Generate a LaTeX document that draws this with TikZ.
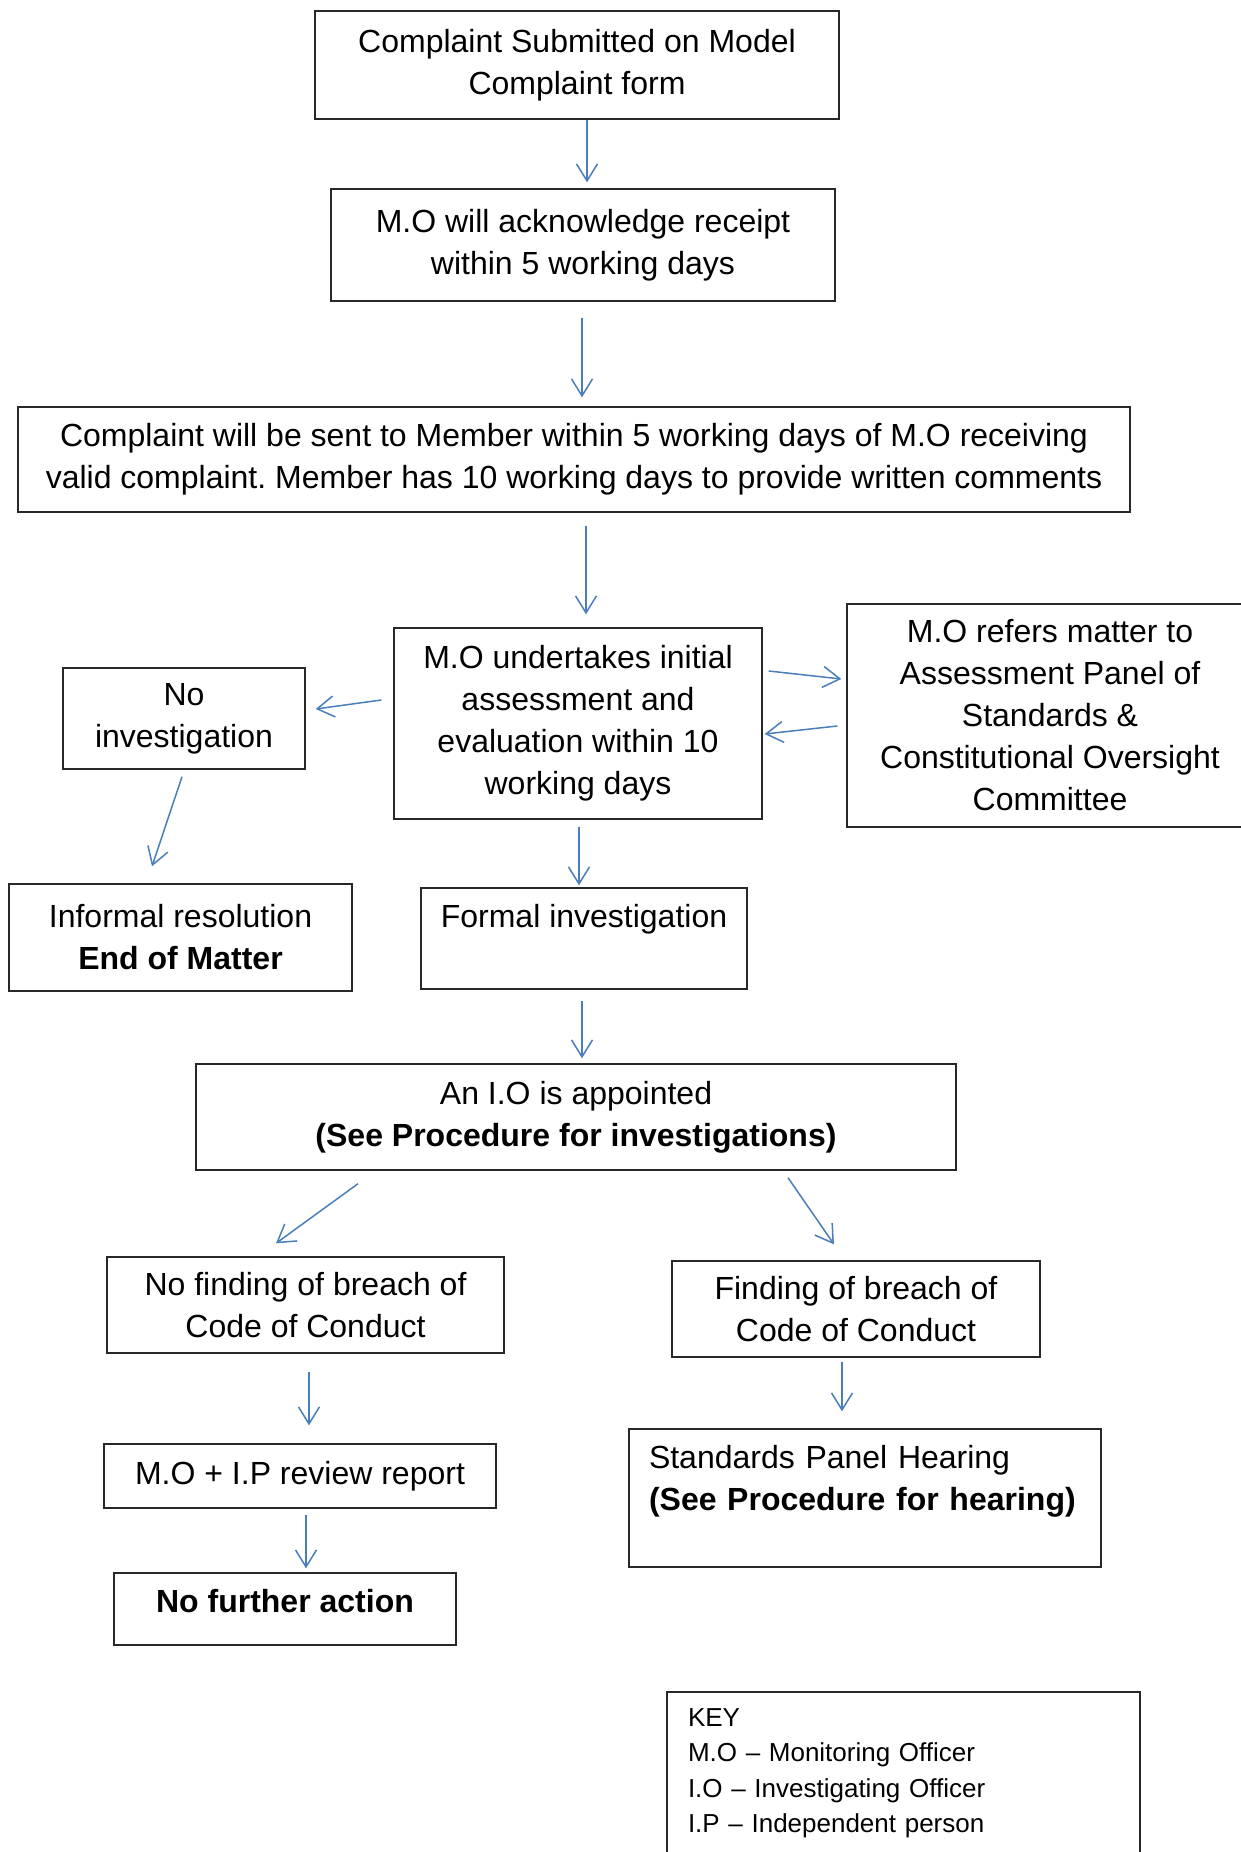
\documentclass[tikz,border=0pt]{standalone}
\usepackage{fontspec}
\setmainfont{Liberation Sans}
\usepackage{tikz}
\usetikzlibrary{arrows.meta, calc}
\frenchspacing

\definecolor{flowblue}{RGB}{74,126,187}
\definecolor{boxline}{RGB}{40,40,40}

\begin{document}
\begin{tikzpicture} [x=1pt, y=-1pt,
	font=\fontsize{32}{42}\selectfont,
	stage/.style={draw=boxline, line width=1.4pt, align=center, inner sep=0pt},
	flowarrow/.style={draw=flowblue, line width=1.5pt, -{Straight Barb[length=17pt, width=21pt]}}]
	%    keyfont/.style={font=\fontsize{26}{35.5}\selectfont}
	
	\useasboundingbox (0,0) rectangle (1241,1852);
	
	\node[stage, minimum width=524pt, minimum height=108pt] (complaint) at (577,65)
		{Complaint Submitted on Model\\Complaint form};
	\node[stage, minimum width=504pt, minimum height=112pt] (ack) at (583,245)
		{M.O will acknowledge receipt\\within 5 working days};
	\node[stage, minimum width=1112pt, minimum height=105pt] (sent) at (574,459.5)
		{Complaint will be sent to Member within 5 working days of M.O receiving\\valid complaint. Member has 10 working days to provide written comments};
	\node[stage, minimum width=368pt, minimum height=191pt] (assess) at (578,723.5)
		{M.O undertakes initial\\assessment and\\evaluation within 10\\working days};
	\node[stage, minimum width=406pt, minimum height=223pt] (panel) at (1050,715.5)
		{M.O refers matter to\\Assessment Panel of\\Standards \&\\Constitutional Oversight\\Committee};
	\node[stage, minimum width=242pt, minimum height=101pt] (noinv) at (184,718.5)
		{No\\investigation};
	\node[stage, minimum width=343pt, minimum height=107pt] (informal) at (180.5,937.5)
		{Informal resolution\\\textbf{End of Matter}};
	\node[stage, minimum width=326pt, text height=39pt, text depth=62pt] (formal) at (584,938.5)
		{Formal investigation};
	\node[stage, minimum width=760pt, minimum height=106pt] (io) at (576,1117)
		{An I.O is appointed\\\textbf{(See Procedure for investigations)}};
	\node[stage, minimum width=397pt, minimum height=96pt] (nofind) at (305.5,1305)
		{No finding of breach of\\Code of Conduct};
	\node[stage, minimum width=368pt, minimum height=96pt] (find) at (856,1309)
		{Finding of breach of\\Code of Conduct};
	\node[stage, minimum width=392pt, minimum height=64pt] (review) at (300,1476)
		{M.O + I.P review report};
	\node[stage, align=left, inner xsep=20pt, text width=432pt, text height=39pt, text depth=99pt] (hearing) at (865,1498)
		{Standards Panel Hearing\\\textbf{(See Procedure for hearing)}};
	\node[stage, minimum width=342pt, text height=39pt, text depth=33pt] (nfa) at (285,1609)
		{\textbf{No further action}};
	\node[stage, align=left, inner xsep=21pt, text width=431pt, text height=34pt, text depth=154pt,
		font=\fontsize{26}{35.5}\selectfont] (key) at (903.5,1786)
		{KEY\\M.O – Monitoring Officer\\I.O – Investigating Officer\\I.P – Independent person};
	
	\draw[flowarrow] ($(complaint.south)+(10,0)$) -- ($(ack.north)+(4,-6)$);
	\draw[flowarrow] ($(ack.south)+(-1,16)$) -- ($(sent.north)+(8,-9)$);
	\draw[flowarrow] ($(sent.south)+(12,13)$) -- ($(assess.north)+(8,-13)$);
	\draw[flowarrow] ($(assess.west)+(-12,-23.5)$) -- ($(noinv.east)+(10,-9.5)$);
	\draw[flowarrow] ($(assess.east)+(6,-52.5)$) -- ($(panel.west)+(-5,-36.5)$);
	\draw[flowarrow] ($(panel.west)+(-9,10.5)$) -- ($(assess.east)+(2,10.5)$);
	\draw[flowarrow] ($(noinv.south)+(-2,7)$) -- ($(informal.north)+(-28.5,-17)$);
	\draw[flowarrow] ($(assess.south)+(1,7)$) -- ($(formal.north)+(-5,-2)$);
	\draw[flowarrow] ($(formal.south)+(-2,11)$) -- ($(io.north)+(6,-5)$);
	\draw[flowarrow] ($(io.south)+(-218,13)$) -- ($(nofind.north)+(-29.5,-13)$);
	\draw[flowarrow] ($(io.south)+(212,7)$) -- ($(find.north)+(-22,-16)$);
	\draw[flowarrow] ($(nofind.south)+(3.5,18)$) -- ($(review.north)+(9,-18)$);
	\draw[flowarrow] ($(review.south)+(6,6)$) -- ($(nfa.north)+(21,-4)$);
	\draw[flowarrow] ($(find.south)+(-14,4)$) -- ($(hearing.north)+(-23,-17)$);
	
\end{tikzpicture}
\end{document}
